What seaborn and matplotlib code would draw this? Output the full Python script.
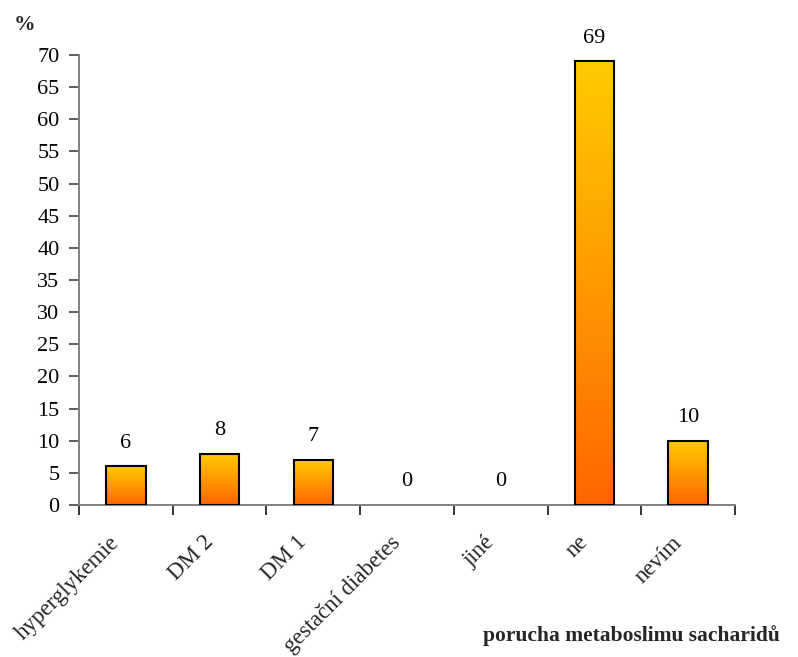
import numpy as np
import matplotlib
matplotlib.use("Agg")
import matplotlib.pyplot as plt
import seaborn as sns
from matplotlib.colors import LinearSegmentedColormap
from matplotlib.transforms import ScaledTranslation

# Data
categories = ["hyperglykemie", "DM 2", "DM 1", "gestační diabetes", "jiné", "ne", "nevím"]
values = [6, 8, 7, 0, 0, 69, 10]
y_ticks = list(range(0, 75, 5))

sns.set_theme(style="ticks")
plt.rcParams["font.family"] = ["Liberation Serif", "DejaVu Serif"]

fig = plt.figure(figsize=(7.98, 6.57), dpi=100)
ax = fig.add_axes([0.099, 0.2314, 0.822, 0.685])

sns.barplot(x=categories, y=values, width=0.42, color="#FF9900",
            edgecolor="black", linewidth=1.5, ax=ax, zorder=3)

# Vertical yellow-to-orange gradient inside each bar
grad_cmap = LinearSegmentedColormap.from_list("bar_grad", ["#FF6600", "#FFCC00"])
gradient = np.linspace(0, 1, 256).reshape(-1, 1)
for patch in ax.patches:
    x0, y0 = patch.get_x(), patch.get_y()
    w, h = patch.get_width(), patch.get_height()
    patch.set_facecolor("none")
    if h <= 0:
        patch.set_edgecolor("none")
        continue
    ax.imshow(gradient, cmap=grad_cmap, origin="lower", aspect="auto",
              extent=(x0, x0 + w, y0, y0 + h), zorder=2, interpolation="bicubic")

# Value labels above bars
for i, v in enumerate(values):
    ax.annotate(f"{v}", xy=(i, v), xytext=(0, 13.5), textcoords="offset points",
                ha="center", va="baseline", fontsize=16, color="black")

ax.set_xlim(-0.5, len(categories) - 0.5)
ax.set_ylim(0, 70)
ax.set_yticks(y_ticks)
ax.set_yticklabels([str(t) for t in y_ticks], fontsize=16)

# Tick marks between categories
ax.set_xticks(np.arange(-0.5, len(categories), 1.0))
ax.set_xticklabels([])
ax.tick_params(axis="x", which="major", length=7, width=1.1, color="black", direction="out")
ax.tick_params(axis="y", length=7, width=1.1, color="#333333", pad=7, labelcolor="black")

# Rotated category names, ending just left of and below each category centre
label_tf = ax.get_xaxis_transform() + ScaledTranslation(-0.17, -0.27, fig.dpi_scale_trans)
for i, name in enumerate(categories):
    ax.text(i, 0, name, transform=label_tf, rotation=45, rotation_mode="anchor",
            ha="right", va="top", fontsize=16.5)

ax.set_xlabel("")
ax.set_ylabel("")
sns.despine(ax=ax)
for side in ("left", "bottom"):
    ax.spines[side].set_color("#808080")
    ax.spines[side].set_linewidth(1.4)
ax.grid(False)
ax.set_facecolor("white")
fig.patch.set_facecolor("white")

fig.text(25 / 798, 1 - 25 / 657, "%", fontsize=15.5, fontweight="bold",
         ha="center", va="center")
fig.text(780 / 798, 1 - 636 / 657, "porucha metaboslimu sacharidů", fontsize=15.5,
         fontweight="bold", ha="right", va="center")

fig.savefig("out.png", dpi=100, facecolor="white")
